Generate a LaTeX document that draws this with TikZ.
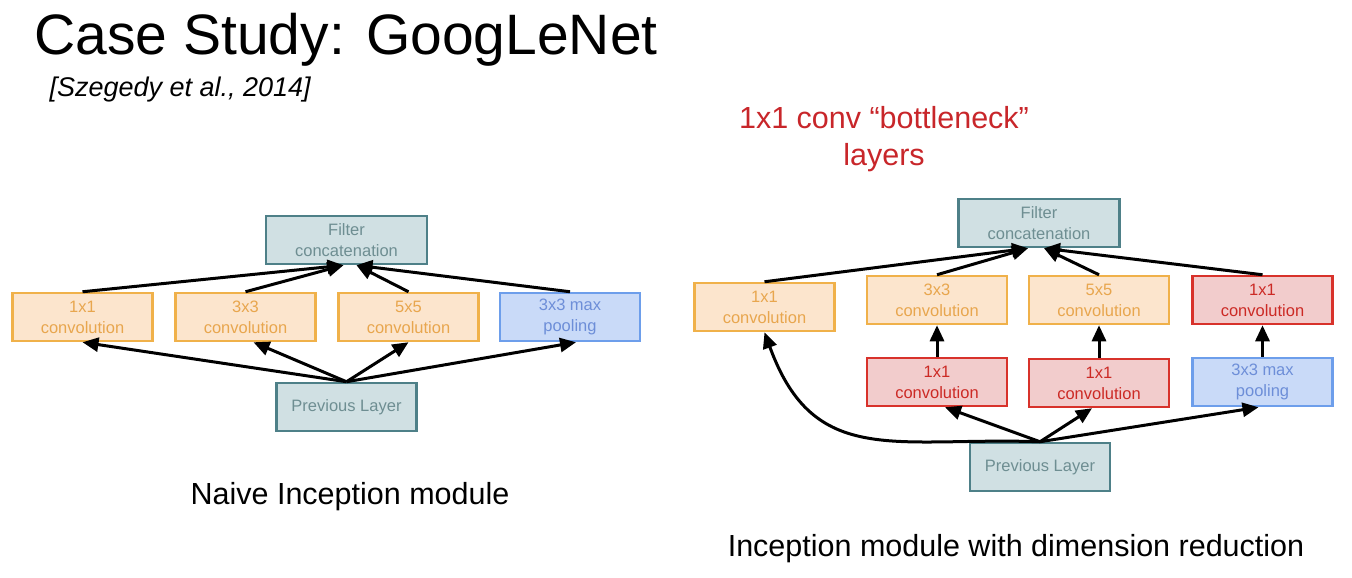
\documentclass[tikz,border=0pt]{standalone}
\usepackage{fontspec}
\setmainfont{Liberation Sans}
\usetikzlibrary{arrows.meta}
\definecolor{tealfill}{HTML}{D0E0E3}
\definecolor{tealline}{HTML}{4E8088}
\definecolor{tealtext}{HTML}{6E8E92}
\definecolor{orfill}{HTML}{FCE5CD}
\definecolor{orline}{HTML}{F0B14A}
\definecolor{ortext}{HTML}{E8A64E}
\definecolor{redfill}{HTML}{F2CCCC}
\definecolor{redline}{HTML}{D8322B}
\definecolor{redtext}{HTML}{CC2A25}
\definecolor{bluefill}{HTML}{C9DAF8}
\definecolor{blueline}{HTML}{6D9EEB}
\definecolor{bluetext}{HTML}{6D8ED8}
\definecolor{headred}{HTML}{C8262A}
\begin{document}
\begin{tikzpicture}[x=1pt,y=-1pt,>={Triangle[length=16pt,width=14pt]},
  box/.style={draw,line width=2.5pt,minimum width=140pt,minimum height=48pt,inner sep=0pt,align=center,font=\fontsize{16.5}{21}\selectfont},
  gray box/.style={box,fill=tealfill,draw=tealline,text=tealtext},
  conv box/.style={box,fill=orfill,draw=orline,text=ortext},
  red box/.style={box,fill=redfill,draw=redline,text=redtext},
  pool box/.style={box,fill=bluefill,draw=blueline,text=bluetext},
  arrow/.style={->,line width=3pt}]
\useasboundingbox (0,0) rectangle (1352,578);
\node[anchor=base west,font=\fontsize{57}{60}\selectfont] (title) at (31,55) {Case Study: GoogLeNet};
\node[anchor=base west,font=\fontsize{27}{30}\selectfont\itshape] (cite) at (46,96) {[Szegedy et al., 2014]};
\node[align=center,font=\fontsize{30.5}{37}\selectfont,text=headred] (bottleneck) at (884,139) {1x1 conv “bottleneck”\\layers};

\node[gray box,minimum width=161pt] (lfilter) at (346.5,240) {Filter\\concatenation};
\node[conv box] (lconv1) at (82.5,317) {1x1\\convolution};
\node[conv box] (lconv3) at (245.5,317) {3x3\\convolution};
\node[conv box] (lconv5) at (408.5,317) {5x5\\convolution};
\node[pool box] (lpool) at (570,317) {3x3 max\\pooling};
\node[gray box] (lprev) at (346.5,407) {Previous Layer};
\node[anchor=base,font=\fontsize{30.5}{33}\selectfont] (lname) at (350,504) {Naive Inception module};

\draw[arrow] (lconv1.north) -- ([xshift=-3]lfilter.south);
\draw[arrow] (lconv3.north) -- ([xshift=-3]lfilter.south);
\draw[arrow] (lconv5.north) -- ([xshift=10]lfilter.south);
\draw[arrow] (lpool.north) -- ([xshift=10]lfilter.south);
\draw[arrow] (lprev.north) -- (lconv1.south);
\draw[arrow] (lprev.north) -- ([xshift=8]lconv3.south);
\draw[arrow] (lprev.north) -- (lconv5.south);
\draw[arrow] (lprev.north) -- ([xshift=6]lpool.south);

\node[gray box,minimum width=161pt] (rfilter) at (1039,223) {Filter\\concatenation};
\node[conv box] (rconv1) at (764.5,307) {1x1\\convolution};
\node[conv box] (rconv3) at (937,300) {3x3\\convolution};
\node[conv box] (rconv5) at (1099,300) {5x5\\convolution};
\node[red box] (rpoolred) at (1262.5,300) {1x1\\convolution};
\node[red box] (rred3) at (937,382) {1x1\\convolution};
\node[red box] (rred5) at (1099,383) {1x1\\convolution};
\node[pool box] (rpool) at (1262.5,382) {3x3 max\\pooling};
\node[gray box] (rprev) at (1040,467) {Previous Layer};
\node[anchor=base,font=\fontsize{30.5}{33}\selectfont] (rname) at (1016,556) {Inception module with dimension reduction};

\draw[arrow] (rconv1.north) -- ([xshift=-11]rfilter.south);
\draw[arrow] (rconv3.north) -- ([xshift=-11]rfilter.south);
\draw[arrow] (rconv5.north) -- ([xshift=5]rfilter.south);
\draw[arrow] (rpoolred.north) -- ([xshift=5]rfilter.south);
\draw[arrow] (rred3.north) -- (rconv3.south);
\draw[arrow] (rred5.north) -- (rconv5.south);
\draw[arrow] (rpool.north) -- (rpoolred.south);
\draw[arrow] (rprev.north) to[out=178,in=-70,looseness=1.25] (rconv1.south);
\draw[arrow] (rprev.north) -- ([xshift=8]rred3.south);
\draw[arrow] (rprev.north) -- ([xshift=-7]rred5.south);
\draw[arrow] (rprev.north) -- ([xshift=-4]rpool.south);
\end{tikzpicture}
\end{document}
